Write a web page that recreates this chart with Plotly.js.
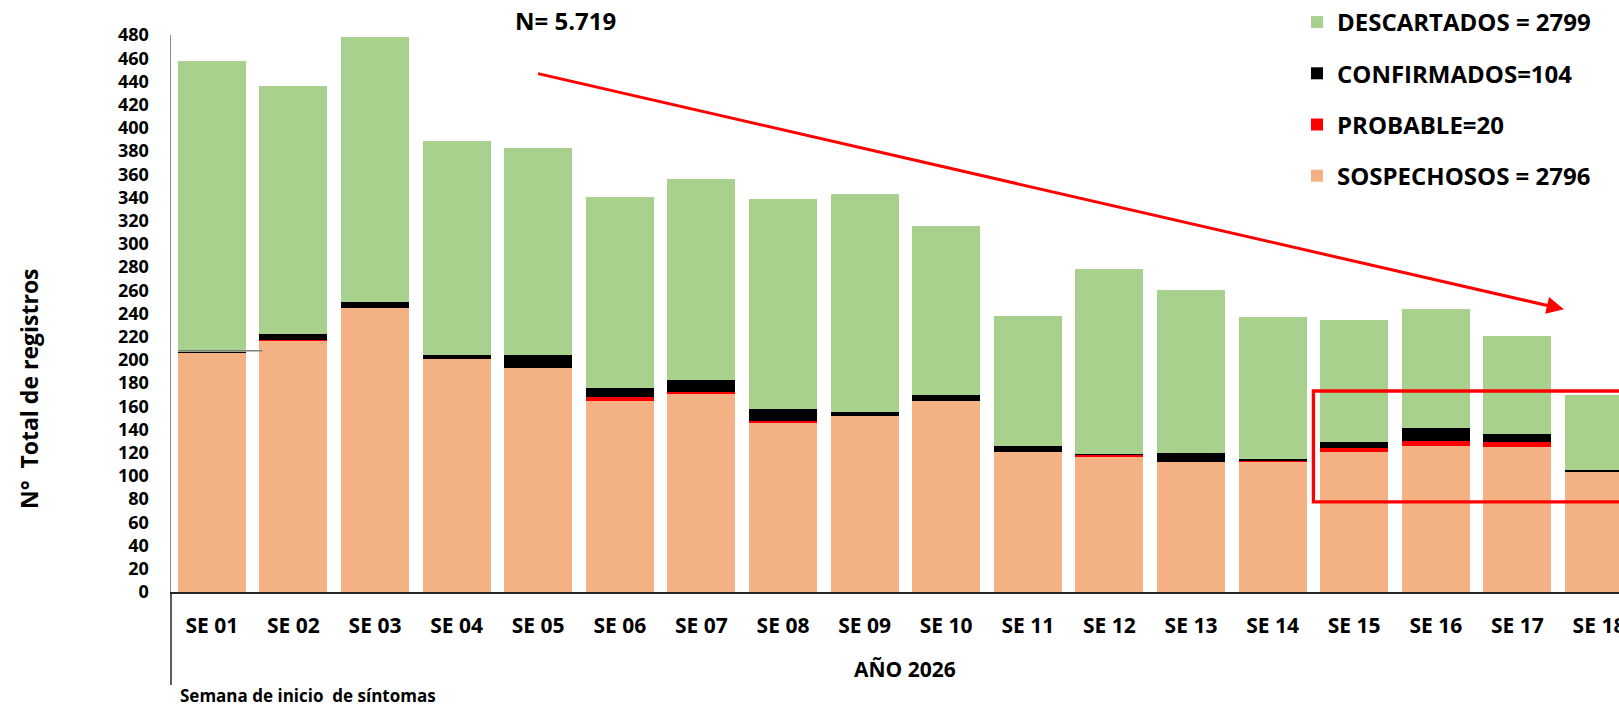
<!DOCTYPE html>
<html>
<head>
<meta charset="utf-8">
<script src="https://cdn.plot.ly/plotly-3.0.1.min.js"></script>
<style>
  html, body { margin: 0; padding: 0; background: #ffffff; }
  #chart { width: 1619px; height: 706px; }
</style>
</head>
<body>
<div id="chart"></div>
<script>
// ---- Data ----
const weeks = ["SE 01","SE 02","SE 03","SE 04","SE 05","SE 06","SE 07","SE 08","SE 09",
               "SE 10","SE 11","SE 12","SE 13","SE 14","SE 15","SE 16","SE 17","SE 18"];
const sospechosos = [206,216,245,201,193,165,171,146,152,165,121,116,112,112,121,126,125,103];
const probable    = [0,1,0,0,0,3,1,1,0,0,0,2,0,1,3,4,4,0];
const confirmados = [1,5,5,3,11,8,11,11,3,5,5,1,8,2,5,11,7,2];
const descartados = [251,214,228,185,179,164,173,181,188,145,112,159,140,122,105,103,85,65];

const seriesNames  = ["SOSPECHOSOS = 2796", "PROBABLE=20", "CONFIRMADOS=104", "DESCARTADOS = 2799"];
const seriesColors = ["#F4B183", "#FF0000", "#000000", "#A9D18E"];
const legendRanks  = [4, 3, 2, 1];
const yTicks = [0,20,40,60,80,100,120,140,160,180,200,220,240,260,280,300,320,340,360,380,400,420,440,460,480];

const titleText  = "N= 5.719";
const xTitleText = "AÑO 2026";
const subText    = "Semana de inicio  de síntomas";
const yTitleText = "N°  Total de registros";

const FONT = "'Open Sans', 'Noto Sans', 'DejaVu Sans', sans-serif";

const seriesValues = [sospechosos, probable, confirmados, descartados];
const traces = seriesValues.map((vals, i) => ({
  type: "bar",
  x: weeks,
  y: vals,
  name: seriesNames[i],
  legendgroup: "g" + i,
  legendrank: legendRanks[i],
  marker: { color: seriesColors[i], line: { width: 0 } },
  hoverinfo: "x+y+name"
}));

const W = 1619, H = 706;

const layout = {
  width: W,
  height: H,
  margin: { l: 171, r: 0, t: 35, b: 114, pad: 0, autoexpand: false },
  paper_bgcolor: "#ffffff",
  plot_bgcolor: "#ffffff",
  barmode: "stack",
  bargap: 0.167,
  font: { family: FONT, color: "#000000" },
  showlegend: true,
  legend: {
    x: 1297 / W, xref: "container", xanchor: "left",
    y: 1, yref: "container", yanchor: "top",
    traceorder: "grouped",
    tracegroupgap: 17,
    bgcolor: "rgba(0,0,0,0)",
    borderwidth: 0,
    font: { family: FONT, size: 24, weight: 700, color: "#000000" }
  },
  xaxis: {
    type: "category",
    range: [-0.5, 17.245],
    showgrid: false,
    zeroline: false,
    showline: true,
    linecolor: "#262626",
    linewidth: 2,
    ticks: "",
    ticklabelstandoff: 14,
    tickfont: { family: FONT, size: 21, weight: 700, color: "#000000" },
    fixedrange: true
  },
  yaxis: {
    range: [0, 480],
    tickvals: yTicks,
    ticktext: yTicks.map(String),
    showgrid: false,
    zeroline: false,
    showline: true,
    linecolor: "#8c8c8c",
    linewidth: 1.5,
    ticks: "",
    ticklabelstandoff: 17,
    tickfont: { family: FONT, size: 18, weight: 700, color: "#000000" },
    fixedrange: true
  },
  shapes: [
    { type: "rect", xref: "x", yref: "y", x0: 13.5, x1: 18.2, y0: 77.6, y1: 173.2,
      line: { color: "#FF0000", width: 3.3 }, fillcolor: "rgba(0,0,0,0)" },
    { type: "line", xref: "x", yref: "y", x0: -0.41, x1: 0.62, y0: 208, y1: 208,
      line: { color: "#7f7f7f", width: 1.5 } },
    { type: "line", xref: "paper", yref: "paper", x0: 0, x1: 0, y0: 0, y1: -0.167,
      line: { color: "#262626", width: 1.5 } }
  ],
  annotations: [
    { text: titleText, xref: "paper", yref: "paper", x: 0.2724, y: 1.0269,
      xanchor: "center", yanchor: "middle", showarrow: false,
      font: { family: FONT, size: 24, weight: 700, color: "#000000" } },
    { text: xTitleText, xref: "x", yref: "paper", x: 8.5, y: -0.138,
      xanchor: "center", yanchor: "middle", showarrow: false,
      font: { family: FONT, size: 21, weight: 700, color: "#000000" } },
    { text: subText, xref: "paper", yref: "paper", x: 0.0048, y: -0.185,
      xanchor: "left", yanchor: "middle", showarrow: false,
      font: { family: FONT, size: 17, weight: 700, color: "#000000" } },
    { text: yTitleText, xref: "paper", yref: "paper", x: -0.098, y: 0.3645,
      xanchor: "center", yanchor: "middle", textangle: -90, showarrow: false,
      font: { family: FONT, size: 23, weight: 700, color: "#000000" } },
    { text: "", xref: "x", yref: "y", x: 16.57, y: 243.6,
      axref: "x", ayref: "y", ax: 3.98, ay: 447,
      showarrow: true, arrowhead: 2, arrowsize: 1.15, arrowwidth: 3, arrowcolor: "#FF0000" }
  ]
};

Plotly.newPlot("chart", traces, layout, { displayModeBar: false, staticPlot: true });
</script>
</body>
</html>
